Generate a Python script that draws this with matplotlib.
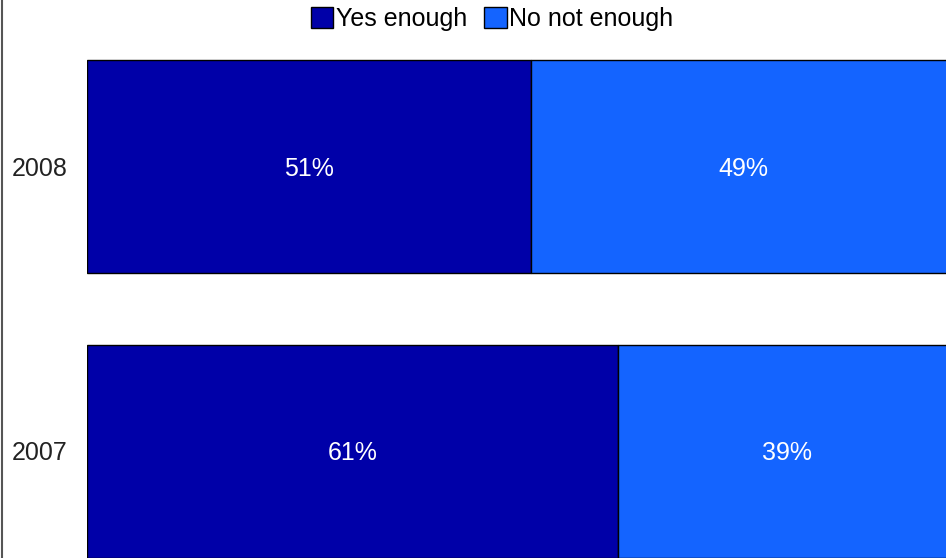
import matplotlib.pyplot as plt
from matplotlib.patches import Patch
from matplotlib.lines import Line2D

plt.rcParams['font.family'] = ['Liberation Sans', 'DejaVu Sans']

years = ["2007", "2008"]
yes_enough = [61, 51]
no_enough = [39, 49]
series_names = ["Yes enough", "No not enough"]
colors = ["#0000A8", "#1464FF"]

W, H = 946, 558
fig = plt.figure(figsize=(W / 100, H / 100), dpi=100)
fig.patch.set_facecolor("white")

# axes placed in pixel terms: 0% at x=87px, 100% at ~957px (cropped on the right)
ax = fig.add_axes([87 / W, 0, 870 / W, 1])
ax.set_xlim(0, 100)
ax.set_ylim(-106.5 / 285, 451.5 / 285)
ax.axis("off")

ypos = list(range(len(years)))
bar_h = 213 / 285
ax.barh(ypos, yes_enough, height=bar_h, color=colors[0], edgecolor="black", lw=1)
ax.barh(ypos, no_enough, left=yes_enough, height=bar_h, color=colors[1],
        edgecolor="black", lw=1)

dy = -2 / 285  # nudge text down a couple of pixels
for y, a, b in zip(ypos, yes_enough, no_enough):
    ax.text(a / 2, y + dy, f"{a}%", color="white", ha="center", va="center", fontsize=18)
    ax.text(a + b / 2, y + dy, f"{b}%", color="white", ha="center", va="center", fontsize=18)
    ax.text(-2.2, y + dy, years[y], ha="right", va="center", fontsize=18, color="#222222")

# left border line
fig.add_artist(Line2D([2 / W, 2 / W], [0, 1], color="#555555", lw=1.5))

handles = [Patch(facecolor=c, edgecolor="black", lw=1) for c in colors]
fig.legend(handles, series_names, loc="center", bbox_to_anchor=(492 / W, 1 - 19 / H),
           ncol=2, frameon=False, fontsize=18, handlelength=0.9, handleheight=0.9,
           handletextpad=0.1, columnspacing=0.7, borderpad=0)

fig.savefig("out.png", dpi=100, facecolor="white")
